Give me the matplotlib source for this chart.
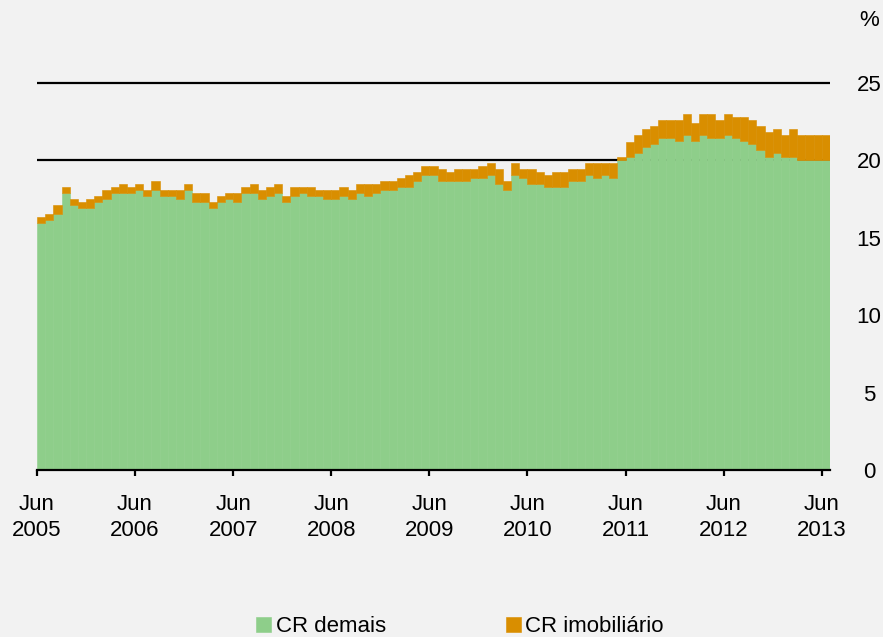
import numpy as np
import matplotlib
matplotlib.use("Agg")
import matplotlib.pyplot as plt

plt.rcParams['font.family'] = ['Liberation Sans', 'DejaVu Sans']

# meses: jun/2005 ate jun/2013
meses = [f"{m:02d}/{a}" for a in range(2005, 2014) for m in range(1, 13)]
meses = meses[5:5 + 97]

# topo da parte verde (CR demais), em %
cr_demais = [15.98, 16.15, 16.54, 17.92, 17.12, 16.92, 16.92, 17.31, 17.50, 17.89,
             17.89, 17.89, 18.09, 17.70, 18.09, 17.70, 17.70, 17.50, 18.09, 17.31,
             17.31, 16.92, 17.31, 17.50, 17.31, 17.89, 17.89, 17.50, 17.70, 17.89,
             17.31, 17.70, 17.89, 17.70, 17.70, 17.50, 17.50, 17.70, 17.50, 17.89,
             17.70, 17.89, 18.09, 18.09, 18.28, 18.28, 18.67, 19.06, 19.06, 18.67,
             18.67, 18.67, 18.67, 18.86, 18.86, 19.06, 18.48, 18.09, 19.06, 18.86,
             18.48, 18.48, 18.28, 18.28, 18.28, 18.67, 18.67, 19.06, 18.86, 19.06,
             18.86, 20.03, 20.24, 20.46, 20.85, 21.04, 21.43, 21.43, 21.23, 21.62,
             21.23, 21.62, 21.43, 21.43, 21.62, 21.43, 21.23, 21.04, 20.65, 20.24,
             20.46, 20.24, 20.24, 20.05, 20.05, 20.05, 20.05]

# total (demais + imobiliario)
total = [16.32, 16.54, 17.10, 18.26, 17.50, 17.31, 17.50, 17.70, 18.09, 18.28,
         18.48, 18.28, 18.48, 18.09, 18.67, 18.09, 18.09, 18.09, 18.48, 17.89,
         17.89, 17.31, 17.70, 17.89, 17.89, 18.28, 18.48, 18.09, 18.28, 18.48,
         17.70, 18.28, 18.28, 18.28, 18.09, 18.09, 18.09, 18.28, 18.09, 18.48,
         18.48, 18.48, 18.67, 18.67, 18.86, 19.06, 19.25, 19.64, 19.64, 19.44,
         19.25, 19.44, 19.44, 19.44, 19.64, 19.83, 19.44, 18.67, 19.83, 19.44,
         19.44, 19.25, 19.06, 19.25, 19.25, 19.44, 19.44, 19.83, 19.83, 19.83,
         19.83, 20.22, 21.22, 21.62, 22.01, 22.20, 22.59, 22.59, 22.59, 22.98,
         22.40, 22.98, 22.98, 22.59, 22.98, 22.78, 22.78, 22.59, 22.20, 21.81,
         22.01, 21.62, 22.01, 21.62, 21.62, 21.62, 21.62]

cr_imob = np.array(total) - np.array(cr_demais)

ticks_pos = list(range(0, 97, 12))
ticks_lab = [f"Jun\n{a}" for a in range(2005, 2014)]

verde = "#8ECE8A"
laranja = "#D98E00"
fundo = "#F2F2F2"

fig = plt.figure(figsize=(8.83, 6.37), dpi=100, facecolor=fundo)
ax = fig.add_axes([0.0419, 0.262, 0.898, 0.632])
ax.set_facecolor(fundo)

x = np.arange(len(meses))
ax.bar(x, cr_demais, width=1.0, align='edge', color=verde, edgecolor=verde,
       linewidth=0.4, zorder=2, label="CR demais")
ax.bar(x, cr_imob, width=1.0, align='edge', bottom=cr_demais, color=laranja,
       edgecolor=laranja, linewidth=0.4, zorder=2, label="CR imobiliário")

# linhas de 20 e 25
for yv in [20, 25]:
    ax.axhline(yv, color="black", linewidth=1.6, zorder=1)

ax.set_xlim(0, 97)
ax.set_ylim(0, 26)

for s in ["top", "left", "right"]:
    ax.spines[s].set_visible(False)
ax.spines["bottom"].set_linewidth(1.6)
ax.spines["bottom"].set_zorder(3)

ax.set_xticks(ticks_pos)
ax.set_xticklabels(ticks_lab, fontsize=16, linespacing=1.3)
ax.tick_params(axis='x', length=4, width=1.6, pad=13)

ax.yaxis.tick_right()
ax.set_yticks([0, 5, 10, 15, 20, 25])
ax.tick_params(axis='y', length=0, pad=28, labelsize=16)
for lab in ax.get_yticklabels():
    lab.set_horizontalalignment('center')

fig.text(869 / 883, 1 - 20 / 637, "%", ha='center', va='center', fontsize=16)

fig.legend(loc='center', bbox_to_anchor=(0.521, 0.016), ncol=2, frameon=False,
           fontsize=16, handlelength=0.68, handleheight=0.68, handletextpad=0.2,
           columnspacing=5.4, borderpad=0)

fig.savefig("out.png", dpi=100, facecolor=fundo)
